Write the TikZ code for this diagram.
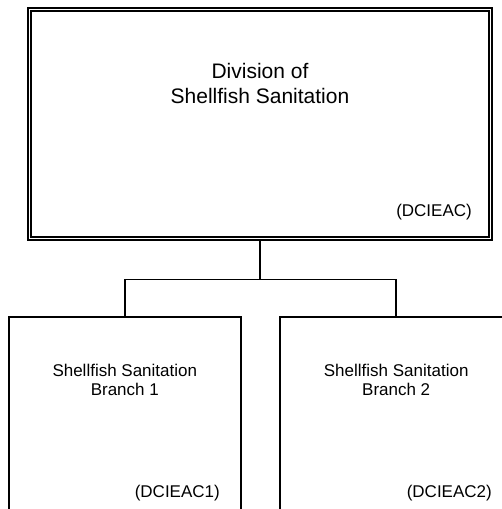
\documentclass[tikz,border=0pt]{standalone}
\usepackage{fontspec}
\setmainfont{Liberation Sans}

\begin{document}
\begin{tikzpicture}[x=1pt, y=-1pt,
    branchbox/.style={draw, line width=1.5pt, minimum width=232pt, minimum height=200pt, inner sep=0pt},
    branchtext/.style={align=center, inner sep=0pt, font=\fontsize{17}{19}\selectfont},
    codetext/.style={anchor=base east, inner sep=0pt, font=\fontsize{17}{20}\selectfont},
    link/.style={line width=1.5pt}]

    \clip (0,0) rectangle (502,509);

    % division
    \node[draw, double, line width=1.6pt, double distance=1.6pt, minimum width=461pt, minimum height=229pt, inner sep=0pt] (div) at (260,124) {};
    \node[align=center, inner sep=0pt, font=\fontsize{21}{25}\selectfont] (divtitle) at (260,83) {Division of\\Shellfish Sanitation};
    \node[codetext] (divcode) at (472,216) {(DCIEAC)};

    % branches
    \node[branchbox] (brA) at (124.8,417) {};
    \node[branchtext] (brAtitle) at (124.8,380) {Shellfish Sanitation\\Branch 1};
    \node[codetext] (brAcode) at (220,497) {(DCIEAC1)};

    \node[branchbox] (brB) at (396.2,417) {};
    \node[branchtext] (brBtitle) at (396.2,380) {Shellfish Sanitation\\Branch 2};
    \node[codetext] (brBcode) at (492,497) {(DCIEAC2)};

    \draw[link] (div.south) -- ++(0,40) coordinate (fork) -| (brA.north);
    \draw[link] (fork) -| (brB.north);

\end{tikzpicture}
\end{document}
